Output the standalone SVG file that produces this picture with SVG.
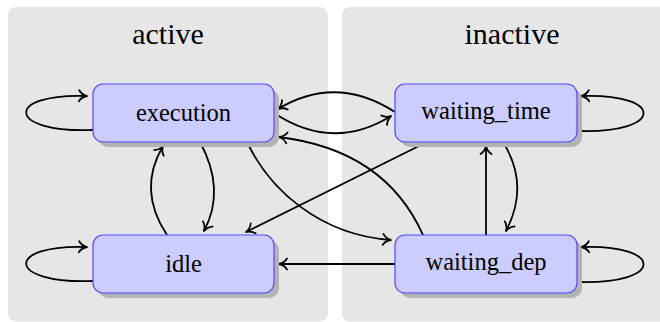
<svg xmlns="http://www.w3.org/2000/svg" width="660" height="322" viewBox="0 0 660 322">
<style>
.panel{fill:#e6e6e6}
.title{font-family:'Liberation Serif','Times New Roman','DejaVu Serif',serif;font-size:30px;fill:#000;text-anchor:middle}
.shadow{fill:#b3b3b3}
.box{fill:#ccccff;stroke:#4a4aff;stroke-width:1.2}
.label{font-family:'Liberation Serif','Times New Roman','DejaVu Serif',serif;font-size:24.5px;fill:#000;text-anchor:middle}
.edge{fill:none;stroke:#000;stroke-width:1.8;marker-end:url(#arr)}
</style>
<defs>
<marker id="arr" viewBox="-10 -7 12 14" refX="0" refY="0" markerWidth="12" markerHeight="14" orient="auto" markerUnits="userSpaceOnUse">
<path d="M-8,-5.5 C-6,-2.2 -2.2,-0.5 0,0 C-2.2,0.5 -6,2.2 -8,5.5" fill="none" stroke="#000" stroke-width="1.8" stroke-linecap="round" stroke-linejoin="round"/>
</marker>
</defs>
<g id="panel-active">
<rect class="panel" x="8" y="7" width="320" height="314.5" rx="8"/>
<text class="title" font-family="Liberation Serif, serif" x="168" y="44">active</text>
</g>
<g id="panel-inactive">
<rect class="panel" x="342" y="7" width="330" height="314.5" rx="8"/>
<text class="title" font-family="Liberation Serif, serif" x="512" y="44">inactive</text>
</g>
<g id="connectors">
<path class="edge" d="M93,130 C5,133 5,93 87,96"/>
<path class="edge" d="M93,281 C5,284 5,244 87,247"/>
<path class="edge" d="M577,131 C665,134 665,93 581,96"/>
<path class="edge" d="M577,282 C665,285 665,244 581,247"/>
<path class="edge" d="M274,113 Q333,152 391,116"/>
<path class="edge" d="M395,112 Q336,74 278,109"/>
<path class="edge" d="M200,142 Q226,190 204,231"/>
<path class="edge" d="M167,235 Q137,190 163,146"/>
<path class="edge" d="M247,142 C270,190 320,235 391,240"/>
<path class="edge" d="M423,235 Q385,150 279,137"/>
<path class="edge" d="M427,142 L246,232"/>
<path class="edge" d="M503,142 Q530,185 506,231"/>
<path class="edge" d="M486,235 L486,146"/>
<path class="edge" d="M395,264 L279,264"/>
</g>
<g id="execution">
<rect class="shadow" x="98" y="89" width="181" height="58" rx="10"/>
<rect class="box" x="93" y="84" width="181" height="58" rx="10"/>
<text class="label" font-family="Liberation Serif, serif" x="183.5" y="121">execution</text>
</g>
<g id="waiting_time">
<rect class="shadow" x="400" y="89" width="182" height="58" rx="10"/>
<rect class="box" x="395" y="84" width="182" height="58" rx="10"/>
<text class="label" font-family="Liberation Serif, serif" x="486" y="119">waiting_time</text>
</g>
<g id="idle">
<rect class="shadow" x="98" y="240" width="181" height="58" rx="10"/>
<rect class="box" x="93" y="235" width="181" height="58" rx="10"/>
<text class="label" font-family="Liberation Serif, serif" x="183.5" y="272">idle</text>
</g>
<g id="waiting_dep">
<rect class="shadow" x="400" y="240" width="182" height="58" rx="10"/>
<rect class="box" x="395" y="235" width="182" height="58" rx="10"/>
<text class="label" font-family="Liberation Serif, serif" x="486" y="270">waiting_dep</text>
</g>
</svg>
